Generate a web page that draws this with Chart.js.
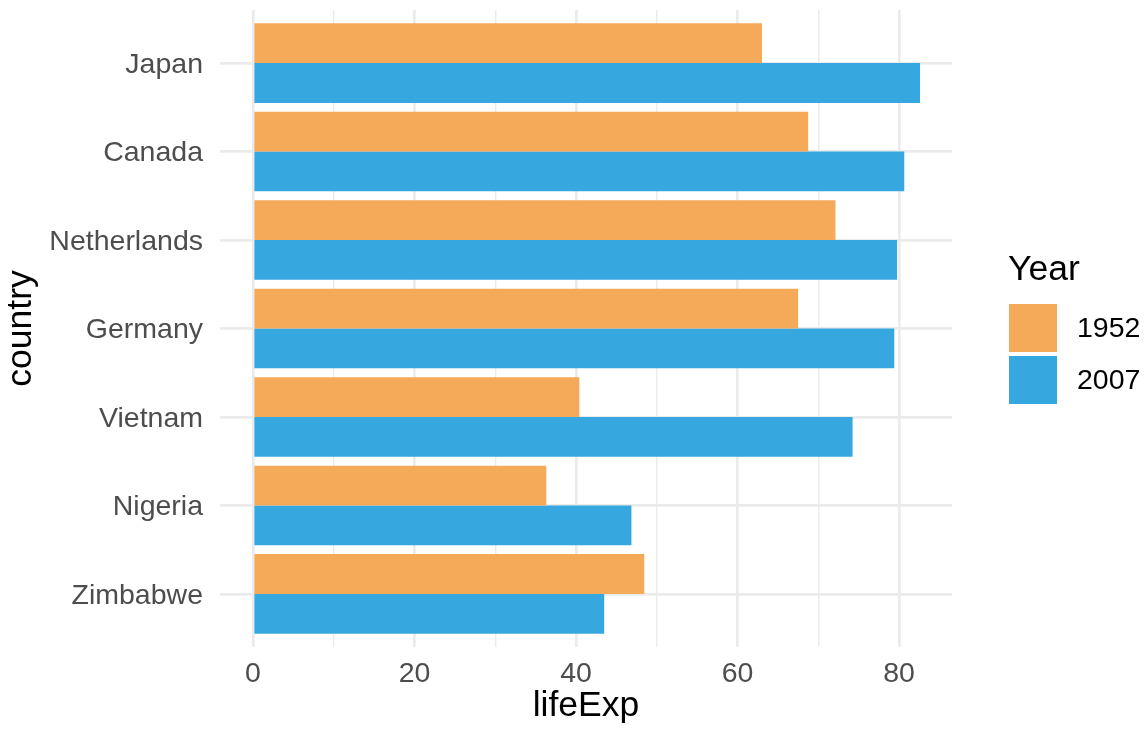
<!DOCTYPE html>
<html>
<head>
<meta charset="utf-8">
<script src="https://cdn.jsdelivr.net/npm/chart.js@4"></script>
<style>
  body { margin: 0; background: #fff; }
  #wrap { width: 1144px; height: 729px; }
</style>
</head>
<body>
<div id="wrap"><canvas id="chart" width="1144" height="729"></canvas></div>
<script>
// data
var countries = ["Japan", "Canada", "Netherlands", "Germany", "Vietnam", "Nigeria", "Zimbabwe"];
var life1952 = [63.03, 68.75, 72.13, 67.5, 40.41, 36.32, 48.45];
var life2007 = [82.6, 80.65, 79.76, 79.41, 74.25, 46.86, 43.49];
var years = ["1952", "2007"];
var xTicks = [0, 10, 20, 30, 40, 50, 60, 70, 80];

var yearColors = ["#F5AA5A", "#37A8DF"];
var grid = "#EBEBEB";

Chart.defaults.font.family = "'Liberation Sans', Arial, sans-serif";

function toPoints(vals) {
  return vals.map(function (v, i) { return { x: v, y: i }; });
}

// ggplot style legend on the right
var yearLegend = {
  id: "yearLegend",
  afterDraw: function (chart) {
    var ctx = chart.ctx;
    ctx.save();
    ctx.fillStyle = "#000";
    ctx.font = "35.5px 'Liberation Sans'";
    ctx.textBaseline = "alphabetic";
    ctx.textAlign = "left";
    ctx.fillText("Year", 1008, 280);
    ctx.font = "28.5px 'Liberation Sans'";
    ctx.textBaseline = "middle";
    years.forEach(function (y, i) {
      var top = 304 + i * 52;
      ctx.fillStyle = yearColors[i];
      ctx.fillRect(1009, top, 48, 48);
      ctx.fillStyle = "#000";
      ctx.fillText(y, 1077, top + 25);
    });
    ctx.restore();
  }
};

new Chart(document.getElementById("chart"), {
  type: "bar",
  data: {
    datasets: [
      { label: years[0], data: toPoints(life1952), backgroundColor: yearColors[0], borderWidth: 0 },
      { label: years[1], data: toPoints(life2007), backgroundColor: yearColors[1], borderWidth: 0 }
    ]
  },
  options: {
    indexAxis: "y",
    responsive: false,
    animation: false,
    events: [],
    categoryPercentage: 0.9,
    barPercentage: 1.0,
    layout: {
      padding: { left: 0, right: 192, top: 10, bottom: 0 }
    },
    plugins: {
      legend: { display: false },
      tooltip: { enabled: false }
    },
    scales: {
      x: {
        type: "linear",
        min: -4.09,
        max: 86.56,
        afterBuildTicks: function (s) {
          s.ticks = xTicks.map(function (v) { return { value: v }; });
        },
        afterFit: function (s) {
          s.height = 82;
          s.paddingLeft = 0;
          s.paddingRight = 0;
        },
        border: { display: false },
        grid: {
          color: grid,
          drawTicks: false,
          lineWidth: function (c) {
            return c.tick && c.tick.value % 20 === 0 ? 2.7 : 1.4;
          }
        },
        ticks: {
          autoSkip: false,
          maxRotation: 0,
          padding: 10,
          color: "#4D4D4D",
          font: { size: 28.5 },
          callback: function (v) { return v % 20 === 0 ? String(v) : ""; }
        },
        title: {
          display: true,
          text: "lifeExp",
          color: "#000",
          font: { size: 35.5, lineHeight: 1 },
          padding: { top: 0, bottom: 5 }
        }
      },
      y: {
        type: "linear",
        min: -0.6,
        max: 6.6,
        reverse: true,
        offset: false,
        afterBuildTicks: function (s) {
          s.ticks = countries.map(function (c, i) { return { value: i }; });
        },
        afterFit: function (s) {
          s.width = 220;
          s.paddingTop = 0;
          s.paddingBottom = 0;
        },
        border: { display: false },
        grid: { color: grid, lineWidth: 2.7, drawTicks: false, offset: false },
        ticks: {
          autoSkip: false,
          padding: 17,
          labelOffset: 2,
          color: "#4D4D4D",
          font: { size: 28.5 },
          callback: function (v) { return countries[v]; }
        },
        title: {
          display: true,
          text: "country",
          color: "#000",
          font: { size: 35.5, lineHeight: 1 },
          padding: { top: 3, bottom: 0 }
        }
      }
    }
  },
  plugins: [yearLegend]
});
</script>
</body>
</html>
